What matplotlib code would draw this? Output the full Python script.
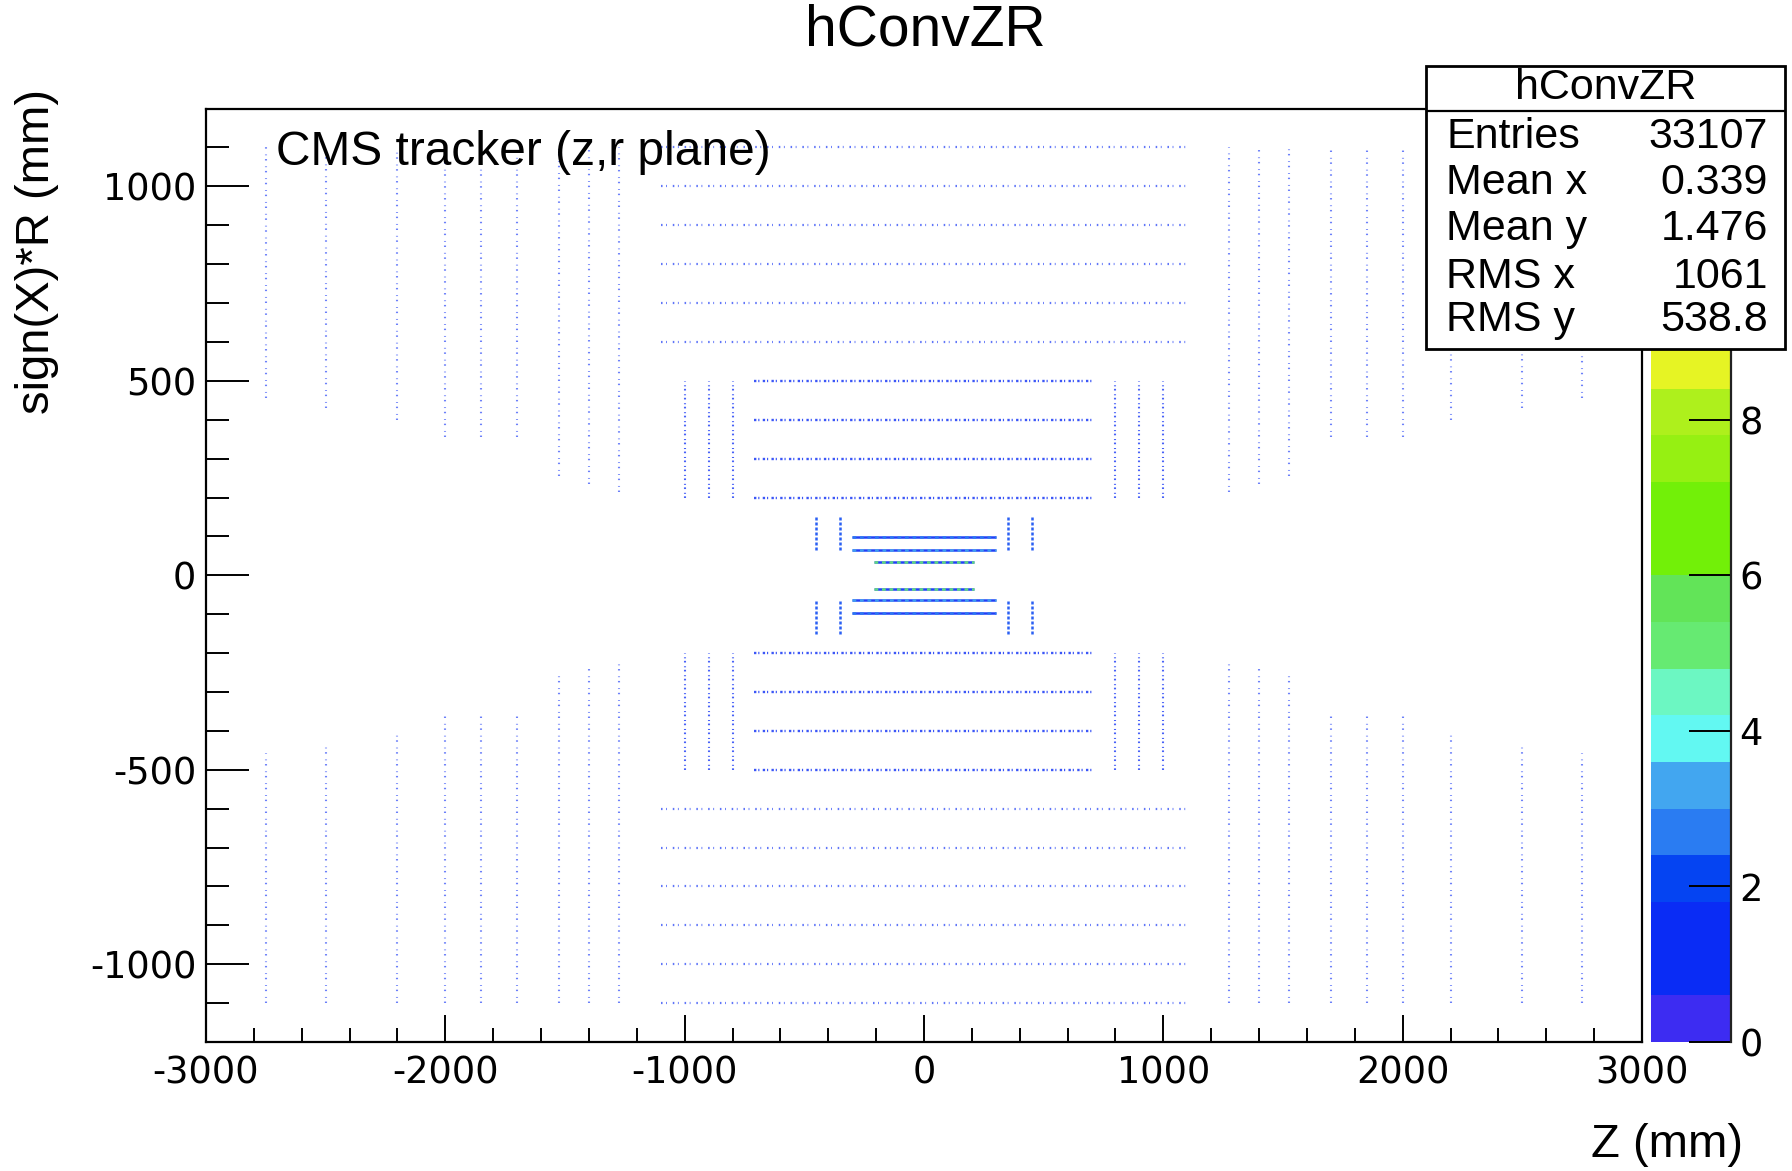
import numpy as np
import matplotlib
matplotlib.use("Agg")
import matplotlib.pyplot as plt
from matplotlib.colors import ListedColormap, BoundaryNorm
from matplotlib.cm import ScalarMappable
from matplotlib.patches import Rectangle

plt.rcParams["axes.unicode_minus"] = False

# ------------- Data (mm) -------------
# barrel layers: radius (drawn at +R and -R) and half length in z
TOB_R = [600, 700, 800, 900, 1000, 1100]
TOB_HALF_Z = 1100
TIB_R = [200, 300, 400, 500]
TIB_HALF_Z = 710
PIX_R = [34, 64, 98]
PIX_HALF_Z = [210, 300, 300]
PIX_COUNTS = [5.0, 3.0, 2.5]
# endcap disks: |z| and radial range
PIXD_Z = [350, 450]
PIXD_R = (65, 150)
TID_Z = [800, 900, 1000]
TID_R = (200, 500)
TEC_Z = [1275, 1400, 1525, 1700, 1850, 2000, 2200, 2500, 2750]
TEC_RMIN = [215, 235, 255, 355, 355, 355, 400, 430, 457]
TEC_RMAX = 1100
# typical counts per bin
TOB_COUNT, TIB_COUNT, TID_COUNT, TEC_COUNT, PIXD_COUNT = 1.0, 1.5, 1.5, 1.0, 2.0

STATS_NAMES = ["Entries", "Mean x", "Mean y", "RMS x", "RMS y"]
STATS_VALUES = ["33107", "0.339", "1.476", "1061", "538.8"]
CBAR_TICKS = [0, 2, 4, 6, 8]

# ROOT-like palette, 20 contour levels over 0..12
PALETTE = ["#3d2cf2", "#0a2cf5", "#0a2cf5", "#0544f2", "#2a7cf2", "#42a6f0",
           "#62f8f2", "#6cf7c2", "#66ea72", "#62e458", "#72f008", "#72f008",
           "#96f012", "#aef01c", "#e6f424", "#f2e020", "#f4b820", "#f48a1c",
           "#f05a16", "#e42a10"]
ZMAX = 12.0
LEVELS = np.linspace(0, ZMAX, len(PALETTE) + 1)

W, H = 1792, 1171
TXT = "Liberation Sans"
NUM = "DejaVu Sans"

cmap = ListedColormap(PALETTE)
norm = BoundaryNorm(LEVELS, cmap.N)

def fx(px): return px / W
def fy(py): return 1 - py / H

fig = plt.figure(figsize=(W / 100, H / 100), dpi=100)
ax = fig.add_axes([fx(206), fy(1042), fx(1642 - 206), (1042 - 108.6) / H])
cax = fig.add_axes([fx(1651), fy(1042), fx(80), (1042 - 108.6) / H])

def col(c, a=0.75):
    r, g, b, _ = cmap(norm(c))
    return (r, g, b, a)

def both(vals):
    return list(vals) + [-v for v in vals]

# barrel layers
ax.hlines(both(TOB_R), -TOB_HALF_Z, TOB_HALF_Z, colors=[col(TOB_COUNT, 0.65)],
          linestyles=[(0, (0.7, 1.6, 0.4, 2.6))], linewidth=1.6)
ax.hlines(both(TIB_R), -TIB_HALF_Z, TIB_HALF_Z, colors=[col(TIB_COUNT, 0.8)],
          linestyles=[(0, (1.0, 0.8, 0.5, 1.4))], linewidth=1.7)
for r, hz, c in zip(PIX_R, PIX_HALF_Z, PIX_COUNTS):
    ax.hlines([r, -r], -hz, hz, colors=[col(1.2, 0.9)], linewidth=1.8)
    ax.hlines([r, -r], -hz, hz, colors=[col(c, 0.9)],
              linestyles=[(0, (1.5, 1.5))], linewidth=1.8)

# endcap disks
for z in both(PIXD_Z):
    ax.vlines([z, z], [PIXD_R[0], -PIXD_R[1]], [PIXD_R[1], -PIXD_R[0]],
              colors=[col(PIXD_COUNT, 0.85)], linestyles=[(0, (1.2, 0.8))], linewidth=1.8)
for z in both(TID_Z):
    ax.vlines([z, z], [TID_R[0], -TID_R[1]], [TID_R[1], -TID_R[0]],
              colors=[col(TID_COUNT, 0.75)], linestyles=[(0, (0.8, 1.2, 0.5, 1.8))], linewidth=1.5)
for z, rmin in zip(TEC_Z, TEC_RMIN):
    for s in (1, -1):
        ax.vlines([s * z, s * z], [rmin, -TEC_RMAX], [TEC_RMAX, -rmin],
                  colors=[col(TEC_COUNT, 0.6)], linestyles=[(0, (0.7, 1.8, 0.4, 2.8))],
                  linewidth=1.5)

ax.set_xlim(-3000, 3000)
ax.set_ylim(-1200, 1200)
ax.set_xticks(np.arange(-3000, 3001, 1000))
ax.set_xticks(np.arange(-3000, 3001, 200), minor=True)
ax.set_yticks([-1000, -500, 0, 500, 1000])
ax.set_yticks(np.arange(-1100, 1101, 100), minor=True)
ax.tick_params(axis="y", which="major", direction="in", length=31, width=1.4, pad=7)
ax.tick_params(axis="y", which="minor", direction="in", length=16.5, width=1.4)
ax.tick_params(axis="x", which="major", direction="in", length=19.5, width=1.4, pad=9)
ax.tick_params(axis="x", which="minor", direction="in", length=10, width=1.4)
for lab in ax.get_xticklabels() + ax.get_yticklabels():
    lab.set_fontfamily(NUM)
    lab.set_fontsize(26.5)
for sp in ax.spines.values():
    sp.set_linewidth(1.6)

ax.text(0.049, 0.953, "CMS tracker (z,r plane)", transform=ax.transAxes,
        family=TXT, fontsize=34.5, ha="left", va="center", zorder=5)

# colour bar
sm = ScalarMappable(norm=norm, cmap=cmap)
cb = fig.colorbar(sm, cax=cax, ticks=CBAR_TICKS)
cb.outline.set_visible(False)
cax.plot([1, 1], [0, 1], transform=cax.transAxes, color="#222222", lw=1.6, clip_on=False)
cax.yaxis.set_ticks_position("right")
cax.tick_params(axis="y", direction="in", length=30, width=1.4, pad=6, labelsize=26.5)
cax.minorticks_off()
for lab in cax.get_yticklabels():
    lab.set_fontfamily(NUM)

# titles
fig.text(fx(925), fy(30), "hConvZR", family=TXT, fontsize=41, ha="center", va="center")
fig.text(fx(37), fy(89), "sign(X)*R (mm)", family=TXT, fontsize=34, rotation=90,
         ha="center", va="top")
fig.text(fx(1743), fy(1145), "Z (mm)", family=TXT, fontsize=34, ha="right", va="center")

# stats box
sax = fig.add_axes([fx(1426), fy(349), fx(359), 283 / H], zorder=10)
sax.set_xlim(0, 1)
sax.set_ylim(0, 1)
sax.axis("off")
sax.add_patch(Rectangle((0, 0), 1, 1, facecolor="white", edgecolor="black",
                        lw=2, transform=sax.transAxes, clip_on=False))
hdr = (349 - 111) / 283
sax.plot([0, 1], [hdr, hdr], color="black", lw=1.6)
sax.text(0.5, (349 - 88) / 283, "hConvZR", family=TXT, fontsize=31, ha="center", va="center")
for yy, name, val in zip([137, 183, 229, 277, 320], STATS_NAMES, STATS_VALUES):
    t = (349 - yy) / 283
    sax.text(0.056, t, name, family=TXT, fontsize=31, ha="left", va="center")
    sax.text(0.953, t, val, family=TXT, fontsize=31, ha="right", va="center")

fig.savefig("out.png", dpi=100, facecolor="white")
